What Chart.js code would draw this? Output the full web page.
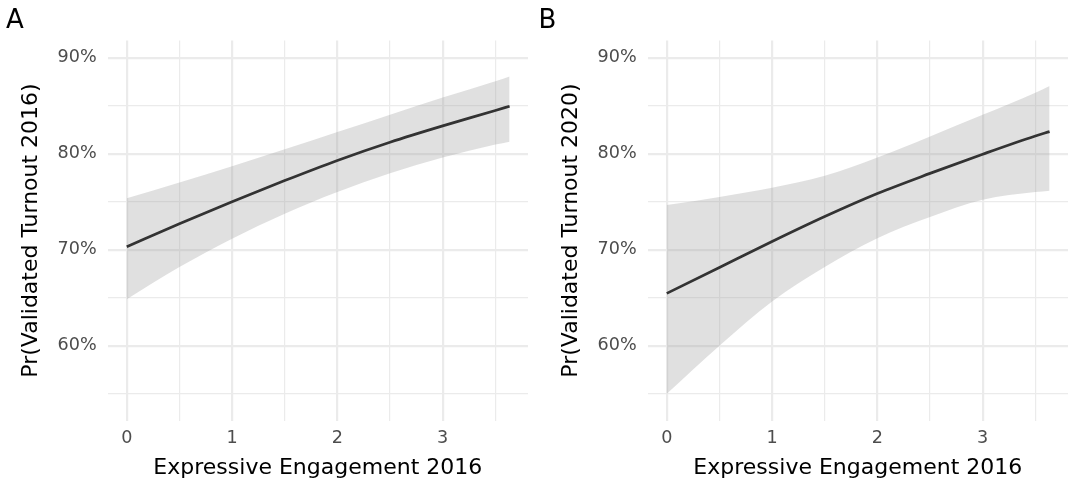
<!DOCTYPE html>
<html>
<head>
<meta charset="utf-8">
<script src="https://cdn.jsdelivr.net/npm/chart.js@4.4.1/dist/chart.umd.min.js"></script>
<style>
  html, body { margin: 0; padding: 0; background: #ffffff; }
  #wrap { position: relative; width: 1069px; height: 487px; overflow: hidden; }
  .panel { position: absolute; top: 0; height: 487px; }
  #panelA { left: 0; width: 534px; }
  #panelB { left: 534px; width: 535px; }
</style>
</head>
<body>
<div id="wrap">
  <div class="panel" id="panelA"><canvas id="chartA"></canvas></div>
  <div class="panel" id="panelB"><canvas id="chartB"></canvas></div>
</div>
<script>
// Predicted probability of validated turnout (%) by 2016 expressive engagement
const engagement = [0, 0.5, 1, 1.5, 2, 2.5, 3, 3.5, 3.635];

const fit2016   = [70.3, 72.7, 75.0, 77.2, 79.3, 81.2, 82.9, 84.5, 84.95];
const upper2016 = [75.35, 77.0, 78.7, 80.45, 82.25, 84.05, 85.85, 87.55, 88.05];
const lower2016 = [64.85, 68.2, 71.15, 73.75, 76.0, 77.95, 79.6, 80.95, 81.25];

const fit2020   = [65.45, 68.15, 70.85, 73.45, 75.85, 77.95, 79.95, 81.85, 82.3];
const upper2020 = [74.65, 75.5, 76.45, 77.7, 79.6, 81.8, 84.05, 86.35, 87.05];
const lower2020 = [55.0, 60.0, 64.6, 68.2, 71.2, 73.4, 75.2, 76.0, 76.15];

const xTicks = [0, 0.5, 1, 1.5, 2, 2.5, 3, 3.5];
const yTicks = [55, 60, 65, 70, 75, 80, 85, 90];

const FONT = "'DejaVu Sans', Verdana, sans-serif";
const GRID = '#ebebeb';

function pts(ys) {
  return engagement.map((x, i) => ({ x: x, y: ys[i] }));
}

// Draws the panel letter in the top-left corner
const panelTag = {
  id: 'panelTag',
  afterDraw(chart, args, opts) {
    const ctx = chart.ctx;
    ctx.save();
    ctx.font = '26px ' + FONT;
    ctx.fillStyle = '#000000';
    ctx.textAlign = 'left';
    ctx.textBaseline = 'alphabetic';
    ctx.fillText(opts.text, opts.x, 28.3);
    ctx.restore();
  }
};

function makeChart(canvasId, tag, tagX, padLeft, padRight, yTitle, fit, upper, lower) {
  return new Chart(document.getElementById(canvasId), {
    type: 'line',
    data: {
      datasets: [
        {
          label: 'fit',
          data: pts(fit),
          borderColor: '#333333',
          borderWidth: 2.7,
          pointRadius: 0,
          fill: false,
          cubicInterpolationMode: 'monotone'
        },
        {
          label: 'upper',
          data: pts(upper),
          borderWidth: 0,
          borderColor: 'rgba(0,0,0,0)',
          backgroundColor: 'rgba(153,153,153,0.3)',
          pointRadius: 0,
          fill: '+1',
          cubicInterpolationMode: 'monotone'
        },
        {
          label: 'lower',
          data: pts(lower),
          borderWidth: 0,
          borderColor: 'rgba(0,0,0,0)',
          pointRadius: 0,
          fill: false,
          cubicInterpolationMode: 'monotone'
        }
      ]
    },
    options: {
      responsive: true,
      maintainAspectRatio: false,
      devicePixelRatio: 1,
      animation: false,
      layout: { padding: { top: 40.4, left: padLeft, right: padRight, bottom: 0 } },
      plugins: {
        legend: { display: false },
        tooltip: { enabled: false },
        panelTag: { text: tag, x: tagX }
      },
      scales: {
        x: {
          type: 'linear',
          min: -0.182,
          max: 3.81,
          afterFit(scale) { scale.height = 66.4; },
          afterBuildTicks(scale) { scale.ticks = xTicks.map(v => ({ value: v })); },
          border: { display: false },
          grid: {
            drawTicks: false,
            color: GRID,
            lineWidth: c => (c.tick && Number.isInteger(c.tick.value)) ? 2.2 : 1.2
          },
          ticks: {
            autoSkip: false,
            maxRotation: 0,
            padding: 7,
            color: '#4d4d4d',
            font: { family: FONT, size: 17.6 },
            callback: v => Number.isInteger(v) ? String(v) : ''
          },
          title: {
            display: true,
            text: 'Expressive Engagement 2016',
            color: '#000000',
            font: { family: FONT, size: 22 },
            padding: { top: 0, bottom: 6 }
          }
        },
        y: {
          type: 'linear',
          min: 52.2,
          max: 91.8,
          afterFit(scale) { scale.width = 107.6; },
          afterBuildTicks(scale) { scale.ticks = yTicks.map(v => ({ value: v })); },
          border: { display: false },
          grid: {
            drawTicks: false,
            color: GRID,
            lineWidth: c => (c.tick && c.tick.value % 10 === 0) ? 2.2 : 1.2
          },
          ticks: {
            autoSkip: false,
            padding: 11,
            color: '#4d4d4d',
            font: { family: FONT, size: 17.6 },
            callback: v => (v % 10 === 0) ? v + '%' : ''
          },
          title: {
            display: true,
            text: yTitle,
            color: '#000000',
            font: { family: FONT, size: 22 },
            padding: { top: 17.8, bottom: 0 }
          }
        }
      }
    },
    plugins: [panelTag]
  });
}

makeChart('chartA', 'A', 6, 0, 6, 'Pr(Validated Turnout 2016)', fit2016, upper2016, lower2016);
makeChart('chartB', 'B', 4.6, 6, 1, 'Pr(Validated Turnout 2020)', fit2020, upper2020, lower2020);
</script>
</body>
</html>
